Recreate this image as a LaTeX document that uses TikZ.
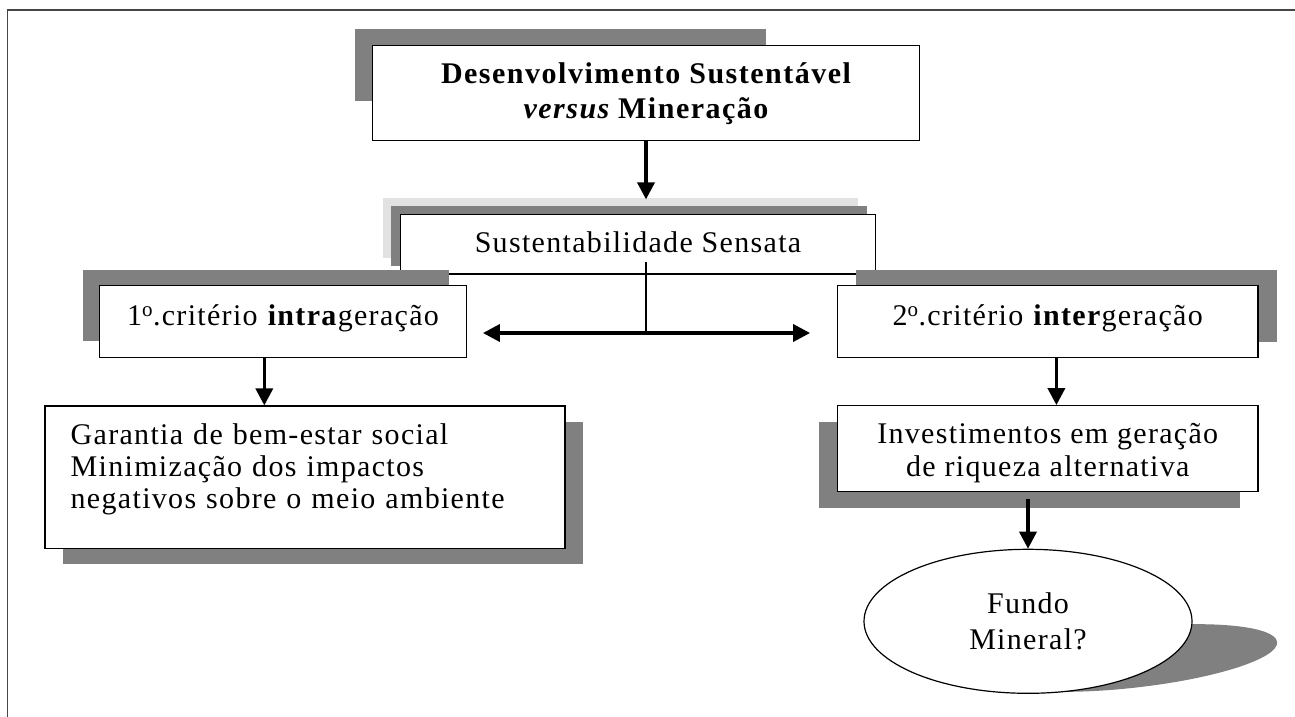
\documentclass[tikz,border=0pt]{standalone}
\usepackage{fontspec}
\setmainfont{Liberation Serif}[LetterSpace=4.4]
\newfontfamily\wideb{Liberation Serif}[LetterSpace=5]
\usetikzlibrary{arrows.meta,shapes.geometric,calc}
\definecolor{shd}{RGB}{128,128,128}
\definecolor{shdl}{RGB}{226,226,226}
\definecolor{framec}{RGB}{70,70,70}
\tikzset{
  box/.style={draw=black, line width=1.2pt, fill=white, rectangle, inner sep=0pt,
              font=\fontsize{30pt}{34pt}\selectfont},
  ovalbox/.style={draw=black, line width=1.2pt, fill=white, ellipse, inner sep=0pt,
              font=\fontsize{30pt}{35.6pt}\selectfont},
  shadowfill/.style={fill=shd},
  conn/.style={line width=3.5pt, -{Triangle[length=17pt,width=17pt]}},
  biconn/.style={line width=3.5pt, {Triangle[length=17pt,width=17pt]}-{Triangle[length=17pt,width=17pt]}},
  thinline/.style={line width=1.2pt},
  framestyle/.style={line width=1.2pt, draw=framec}
}
\begin{document}
\begin{tikzpicture}[x=1pt,y=1pt]
\useasboundingbox (0,0) rectangle (1295,-716);
% outer frame (only top and left edges fall inside the picture)
\draw[framestyle] (1300,-10) -- (7.3,-10) -- (7.3,-720);

% ---------- top box ----------
\fill[shadowfill] (355,-29.3) rectangle (766,-101);
\node[box, minimum width=546.6pt, minimum height=95pt, align=center,
      font=\fontsize{30pt}{35pt}\selectfont] (top) at (646,-93.2)
  {{\wideb\bfseries Desenvolvimento Sustentável}\\{\wideb\bfseries\itshape versus} {\wideb\bfseries Mineração}};

% ---------- Sustentabilidade box ----------
\fill[shdl] (383.3,-198.3) rectangle (857.7,-257.7);
\fill[shd] (391,-206) rectangle (866.7,-265.7);
\node[box, minimum width=475.4pt, minimum height=59.7pt, text height=20pt, text depth=3pt]
  (sust) at (638,-244.15) {Sustentabilidade Sensata};

% ---------- criteria boxes ----------
\fill[shadowfill] (82.7,-270) rectangle (449,-341);
\node[box, minimum width=367.4pt, minimum height=72pt, text height=20pt, text depth=13pt]
  (c1) at (283,-321.7) {1\textsuperscript{o}.critério \textbf{intra}geração};

\fill[shadowfill] (856.3,-270) rectangle (1276.5,-341.7);
\node[box, minimum width=420.5pt, minimum height=71.8pt, text height=20pt, text depth=13pt]
  (c2) at (1047.75,-321.6) {2\textsuperscript{o}.critério \textbf{inter}geração};

% ---------- lower boxes ----------
\fill[shadowfill] (62.7,-421.7) rectangle (582.7,-564.3);
\node[box, minimum width=520pt, minimum height=142.3pt, text width=468.6pt, inner xsep=25.7pt,
      align=left, font=\fontsize{30pt}{32pt}\selectfont] (gar) at (305,-477.15)
  {Garantia de bem-estar social\\Minimização dos impactos\\negativos sobre o meio ambiente\rule[-22pt]{0pt}{22pt}};

\fill[shadowfill] (819,-422.3) rectangle (1239.5,-508.3);
\node[box, minimum width=420.5pt, minimum height=86pt, align=center,
      font=\fontsize{30pt}{33.4pt}\selectfont] (inv) at (1047.75,-448.7)
  {\rule{0pt}{28.6pt}Investimentos em geração\\de riqueza alternativa};

% ---------- ellipse ----------
\fill[shadowfill, rotate around={6.2:(1130,-658)}] (1130,-658) ellipse [x radius=148, y radius=30];
\node[ovalbox, minimum width=328pt, minimum height=144pt, align=center] (fundo) at (1028,-621.3)
  {Fundo\\Mineral?};

% ---------- connectors ----------
\coordinate (sc) at (646,-261.7);
\coordinate (split) at (646,-333);
\coordinate (x1) at (264.3,0);
\coordinate (x2) at (1056.4,0);

\draw[conn, shorten >=14.3pt] (top.south) -- (top.south |- sust.north);
\draw[thinline] (sc) -- (split);
\draw[biconn, shorten <=15.6pt, shorten >=26.8pt] (split -| c1.east) -- (split -| c2.west);
\draw[conn] (c1.south -| x1) -- (gar.north -| x1);
\draw[conn] (c2.south -| x2) -- (inv.north -| x2);
\draw[conn, shorten <=7pt] (inv.south -| fundo.north) -- (fundo.north);
\end{tikzpicture}
\end{document}
